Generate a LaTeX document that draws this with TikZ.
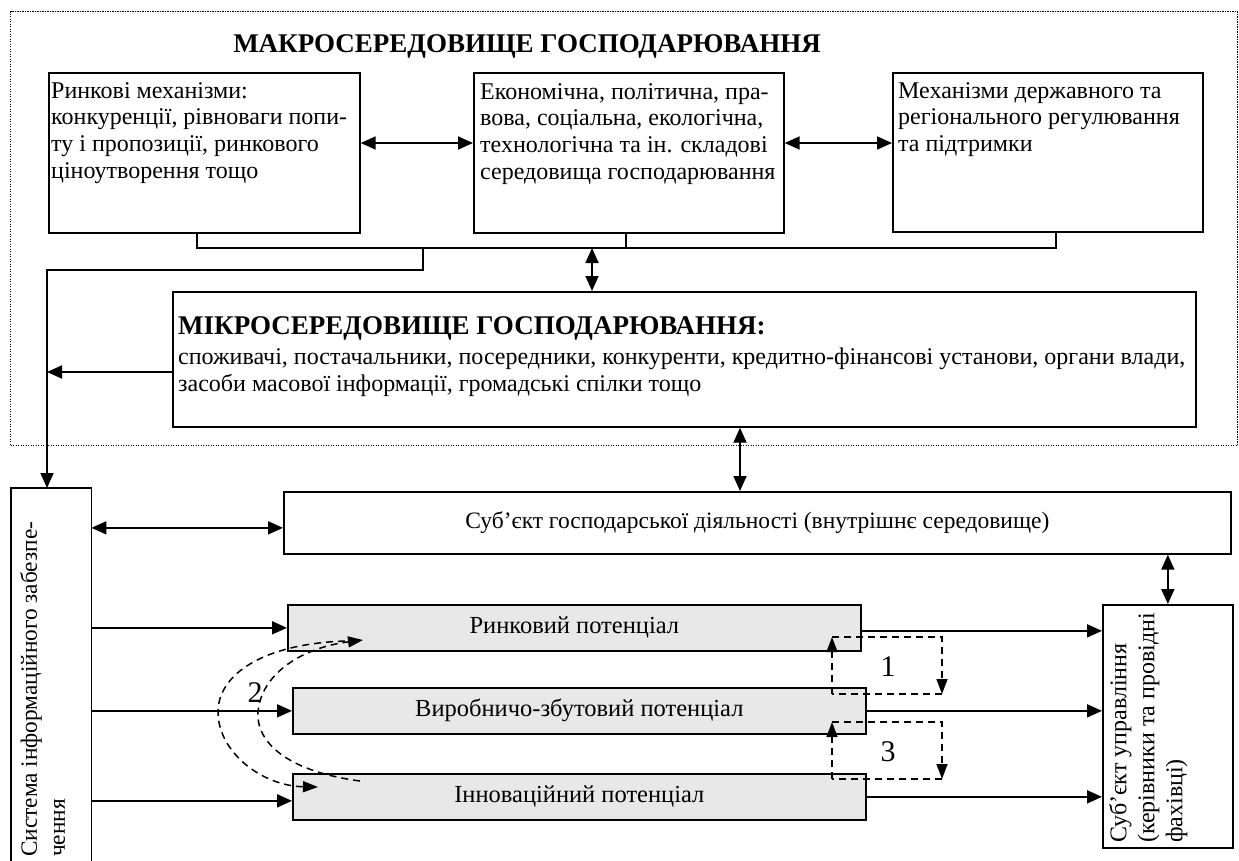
\documentclass[tikz,border=0pt]{standalone}
\usepackage{fontspec}
\setmainfont{Liberation Serif}
\usetikzlibrary{arrows.meta,calc}
\definecolor{gfill}{HTML}{E8E8E8}
\newcommand{\myBody}{\fontsize{24}{26.7}\selectfont}
\newcommand{\myTitle}{\fontsize{27}{30}\selectfont\bfseries}
\newcommand{\myNum}{\fontsize{30}{32}\selectfont}
\newcommand{\mySys}{\fontsize{23.3}{28}\selectfont}
\newcommand{\myRot}{\fontsize{24}{28}\selectfont}
\newcommand{\myMid}{\fontsize{23.5}{26}\selectfont}
\newcommand{\myPot}{\fontsize{24.5}{26}\selectfont}
\begin{document}
\begin{tikzpicture}[x=1pt,y=-1pt,
  box/.style={draw, line width=1.7pt, inner sep=0pt, anchor=north west},
  gbox/.style={box, fill=gfill},
  txt/.style={inner sep=0pt, align=left, font=\myBody},
  ln/.style={line width=1.7pt},
  arr/.style={line width=1.8pt, -{Triangle[length=15pt,width=13pt]}},
  darr/.style={line width=1.8pt, {Triangle[length=15pt,width=13pt]}-{Triangle[length=15pt,width=13pt]}},
  dsh/.style={line width=1.5pt, dash pattern=on 7pt off 5pt},
  darrow/.style={dsh, -{Triangle[length=15pt,width=11pt]}},
  dotb/.style={line width=1.2pt, dash pattern=on 1.2pt off 1.3pt}
]
\useasboundingbox (0,0) rectangle (1239,861);

% outer dotted frame
\node[dotb, draw, inner sep=0pt, anchor=north west, minimum width=1227pt, minimum height=434pt] (macro) at (10,11) {};
\node[inner sep=0pt, font=\myTitle, anchor=base] (mtitle) at (527,53) {МАКРОСЕРЕДОВИЩЕ ГОСПОДАРЮВАННЯ};

% top boxes
\node[box, minimum width=311pt, minimum height=160pt] (b1) at (48,72) {};
\node[box, minimum width=310pt, minimum height=160pt] (b2) at (473,72) {};
\node[box, minimum width=310pt, minimum height=159pt] (b3) at (892,72) {};
\node[txt, anchor=north west] (b1t) at (51,82) {Ринкові механізми:\\конкуренції, рівноваги попи-\\ту і пропозиції, ринкового\\ціноутворення тощо};
\node[txt, anchor=north west] (b2t) at (480,83) {Економічна, політична, пра-\\вова, соціальна, екологічна,\\технологічна та ін. складові\\середовища господарювання};
\node[txt, anchor=north west] (b3t) at (898,82) {Механізми державного та\\регіонального регулювання\\та підтримки};

\draw[darr] ($(b1.north east)+(0,71)$) -- ($(b2.north west)+(0,71)$);
\draw[darr] ($(b2.north east)+(0,71)$) -- ($(b3.north west)+(0,71)$);

% bracket
\coordinate (k1) at (197,248);
\coordinate (k2) at (626,248);
\coordinate (k3) at (1056,248);
\draw[ln] (b1.south -| k1) -- (k1) -- (k3) -- (b3.south -| k3);
\draw[ln] (b2.south -| k2) -- (k2);

% micro box
\node[box, minimum width=1023pt, minimum height=135pt] (m) at (172,291) {};
\node[inner sep=0pt, font=\myTitle, anchor=base west] (mt) at (178,334) {МІКРОСЕРЕДОВИЩЕ ГОСПОДАРЮВАННЯ:};
\node[txt, anchor=north west] (mb) at (178,348) {споживачі, постачальники, посередники, конкуренти, кредитно-фінансові установи, органи влади,\\засоби масової інформації, громадські спілки тощо};

\coordinate (kd) at (592,248);
\draw[darr] (kd) -- (kd |- m.north);

% left feed line
\coordinate (kl) at (423,248);
\coordinate (kc) at (423,270);
\coordinate (kv) at (47,270);

% system box (cut by page bottom)
\node[inner sep=0pt, anchor=north west, minimum width=80pt, minimum height=373pt] (sys) at (11,488) {};
\draw[ln] (sys.south west) -- (sys.north west) -- (sys.north east) -- (sys.south east);
\node[inner sep=0pt, align=left, font=\mySys, rotate=90, anchor=north west] (syst) at (20,857) {Система інформаційного забезпе-\\чення};

\draw[arr] (kl) -- (kc) -- (kv) -- (kv |- sys.north);
\coordinate (mw) at ($(m.north west)+(0,81)$);
\draw[arr] (mw) -- (mw -| kv);

% subject of activity
\node[box, minimum width=947pt, minimum height=62pt] (s) at (283,491) {};
\node[inner sep=0pt, font=\myMid] (st) at (s.center) {Суб’єкт господарської діяльності (внутрішнє середовище)};
\coordinate (kx) at (740,426);
\draw[darr] (m.south -| kx) -- (s.north -| kx);
\coordinate (sw) at ($(s.west)+(0,5)$);
\draw[darr] (sys.east |- sw) -- (sw);

% potentials
\node[gbox, minimum width=573pt, minimum height=46pt] (rp) at (287,604) {};
\node[gbox, minimum width=573pt, minimum height=46pt] (vp) at (292,687) {};
\node[gbox, minimum width=573pt, minimum height=46pt] (ip) at (292,773) {};
\node[inner sep=0pt, font=\myPot] (rpt) at (rp.center) {Ринковий потенціал};
\node[inner sep=0pt, font=\myPot] (vpt) at (vp.center) {Виробничо-збутовий потенціал};
\node[inner sep=0pt, font=\myPot] (ipt) at (ip.center) {Інноваційний потенціал};

% management subject
\node[box, minimum width=130pt, minimum height=243pt] (su) at (1102,604) {};
\node[inner sep=0pt, align=left, font=\myRot, rotate=90, anchor=north west] (sut) at (1109,843) {Суб’єкт управління\\(керівники та провідні\\фахівці)};

\draw[darr] (s.south -| su.north) -- (su.north);

\draw[arr] (sys.east |- rp.west) -- (rp.west);
\draw[arr] (sys.east |- vp.west) -- (vp.west);
\coordinate (iw) at ($(ip.west)+(0,4)$);
\draw[arr] (sys.east |- iw) -- (iw);
\coordinate (re) at ($(rp.east)+(0,3)$);
\draw[arr] (re) -- (re -| su.west);
\draw[arr] (vp.east) -- (vp.east -| su.west);
\draw[arr] (ip.east) -- (ip.east -| su.west);

% dashed loop 1
\coordinate (l1a) at (832,694);
\coordinate (l1b) at (832,637);
\coordinate (l1c) at (942,637);
\coordinate (l1d) at (942,694);
\draw[darrow] (l1a) -- (l1b);
\draw[darrow] (l1b) -- (l1c) -- (l1d);
\draw[dsh] (l1d) -- (l1a);
\node[inner sep=0pt, font=\myNum] (n1) at (888,667) {1};

% dashed loop 3
\coordinate (l3a) at (832,779);
\coordinate (l3b) at (832,722);
\coordinate (l3c) at (942,722);
\coordinate (l3d) at (942,779);
\draw[darrow] (l3a) -- (l3b);
\draw[darrow] (l3b) -- (l3c) -- (l3d);
\draw[dsh] (l3d) -- (l3a);
\node[inner sep=0pt, font=\myNum] (n3) at (888,752) {3};

% dashed curves 2
\coordinate (c1s) at (360,781);
\coordinate (c1e) at (363,640);
\coordinate (c2s) at (345,641);
\coordinate (c2e) at (318,787);
\draw[darrow] (c1s) .. controls (292,772) and (256,745) .. (258,712) .. controls (261,675) and (300,648) .. (c1e);
\draw[darrow] (c2s) .. controls (262,644) and (218,675) .. (218,712) .. controls (218,752) and (262,786) .. (c2e);
\node[inner sep=0pt, font=\myNum] (n2) at (255,693) {2};
\end{tikzpicture}
\end{document}
